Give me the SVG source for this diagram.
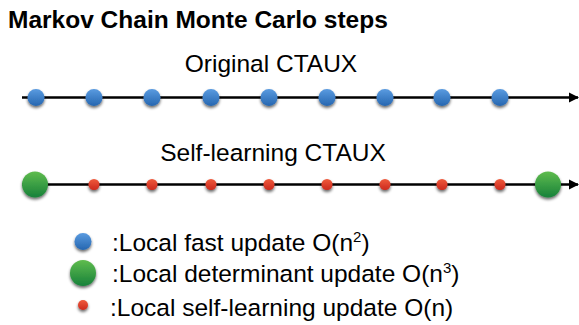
<svg xmlns="http://www.w3.org/2000/svg" width="579" height="325" viewBox="0 0 579 325">
<defs>
<style>
text{font-family:"Liberation Sans",Arial,sans-serif;fill:#000}
.t{font-size:24.5px}
.h{font-size:24.5px;font-weight:bold}
.ax{stroke:#000;stroke-width:2.5;fill:none}
</style>
<linearGradient id="gb" x1="0" y1="0" x2="0" y2="1"><stop offset="0" stop-color="#5a9be0"/><stop offset="1" stop-color="#2566b0"/></linearGradient>
<linearGradient id="gg" x1="0" y1="0" x2="0" y2="1"><stop offset="0" stop-color="#5fbc4e"/><stop offset="1" stop-color="#17813a"/></linearGradient>
<linearGradient id="gr" x1="0" y1="0" x2="0" y2="1"><stop offset="0" stop-color="#ef5a3c"/><stop offset="1" stop-color="#cc2a1e"/></linearGradient>
<filter id="sh" x="-50%" y="-50%" width="200%" height="200%"><feGaussianBlur in="SourceAlpha" stdDeviation="1.5"/><feOffset dx="0" dy="1.5" result="b"/><feComponentTransfer><feFuncA type="linear" slope="0.6"/></feComponentTransfer><feMerge><feMergeNode/><feMergeNode in="SourceGraphic"/></feMerge></filter>
<marker id="ar" viewBox="0 0 10 10" refX="9" refY="5" markerWidth="4" markerHeight="4.4" orient="auto" markerUnits="strokeWidth"><path d="M0,0L10,5L0,10z" fill="#000"/></marker>
</defs>
<text class="h" x="8" y="28">Markov Chain Monte Carlo steps</text>
<text class="t" x="271" y="72" text-anchor="middle">Original CTAUX</text>
<text class="t" x="273" y="161" text-anchor="middle">Self-learning CTAUX</text>
<g id="connectors">
<line class="ax" x1="22" y1="97.5" x2="578" y2="97.5" marker-end="url(#ar)"/>
<line class="ax" x1="22" y1="184.5" x2="578" y2="184.5" marker-end="url(#ar)"/>
</g>
<g id="row1" filter="url(#sh)" fill="url(#gb)">
<circle cx="36" cy="97.5" r="8.5"/><circle cx="94" cy="97.5" r="8.5"/><circle cx="152" cy="97.5" r="8.5"/><circle cx="211" cy="97.5" r="8.5"/><circle cx="269" cy="97.5" r="8.5"/><circle cx="327" cy="97.5" r="8.5"/><circle cx="385" cy="97.5" r="8.5"/><circle cx="442" cy="97.5" r="8.5"/><circle cx="500" cy="97.5" r="8.5"/>
</g>
<g id="row2" filter="url(#sh)">
<circle cx="35" cy="184.5" r="13" fill="url(#gg)"/>
<g fill="url(#gr)"><circle cx="94" cy="184.5" r="5.5"/><circle cx="152" cy="184.5" r="5.5"/><circle cx="211" cy="184.5" r="5.5"/><circle cx="269" cy="184.5" r="5.5"/><circle cx="327" cy="184.5" r="5.5"/><circle cx="385" cy="184.5" r="5.5"/><circle cx="442" cy="184.5" r="5.5"/><circle cx="500" cy="184.5" r="5.5"/></g>
<circle cx="548" cy="184.5" r="13" fill="url(#gg)"/>
</g>
<g id="legend">
<circle cx="83" cy="241.5" r="8.5" fill="url(#gb)" filter="url(#sh)"/>
<text class="t" x="112" y="251">:Local fast update O(n<tspan font-size="15" dy="-9">2</tspan><tspan dy="9">)</tspan></text>
<circle cx="83" cy="273" r="13" fill="url(#gg)" filter="url(#sh)"/>
<text class="t" x="112" y="282">:Local determinant update O(n<tspan font-size="15" dy="-9">3</tspan><tspan dy="9">)</tspan></text>
<circle cx="83" cy="305" r="5" fill="url(#gr)" filter="url(#sh)"/>
<text class="t" x="110" y="316">:Local self-learning update O(n)</text>
</g>
</svg>
